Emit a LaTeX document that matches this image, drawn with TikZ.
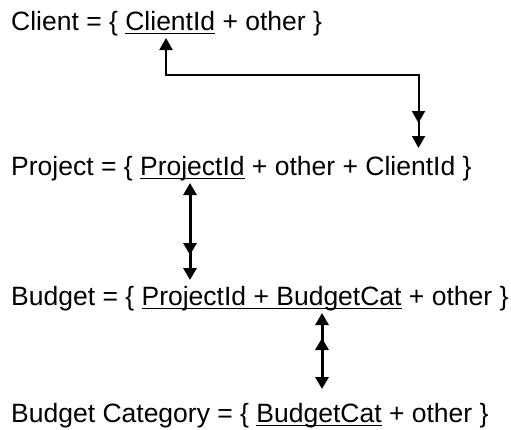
\documentclass[tikz,border=0pt]{standalone}
\usepackage{fontspec}
\setmainfont{Liberation Sans}
\usetikzlibrary{arrows.meta,decorations.markings}
\newcommand\keyul[1]{\setbox0\hbox{#1}\rlap{\rule[-4.4pt]{\wd0}{1.8pt}}\box0\relax}
\begin{document}
\begin{tikzpicture}[x=1pt,y=1pt,
  >={Triangle[length=12pt,width=13pt]},
  relation/.style={anchor=base west, inner sep=0pt, font=\fontsize{26.5}{30}\selectfont},
  link/.style={<->, line width=3pt},
  many/.style={postaction={decorate, decoration={markings, mark=at position -25pt with {\arrow{>}}}}}]
\useasboundingbox (0,0) rectangle (511,-429);
\node[relation] (client) at (11,-30) {Client = \{ \keyul{ClientId} + other \}};
\node[relation] (project) at (11,-175) {Project = \{ \keyul{ProjectId} + other + ClientId \}};
\node[relation] (budget) at (11,-305) {Budget = \{ \keyul{ProjectId + BudgetCat} + other \}};
\node[relation] (cat) at (11,-422) {Budget Category = \{ \keyul{BudgetCat} + other \}};

\coordinate (clientcol) at (166,0);
\coordinate (fkcol) at (418.5,0);
\coordinate (projcol) at (190,0);
\coordinate (catcol) at (322,0);
\coordinate (turn) at (0,-75);

\draw[link, many, line width=2pt] ([yshift=-8pt]client.base -| clientcol) |- (turn -| fkcol) -- ([yshift=27pt]project.base -| fkcol);
\draw[link, many] ([yshift=-8pt]project.base -| projcol) -- ([yshift=25pt]budget.base -| projcol);
\draw[link, many] ([yshift=33pt]cat.base -| catcol) -- ([yshift=-8pt]budget.base -| catcol);
\end{tikzpicture}
\end{document}
